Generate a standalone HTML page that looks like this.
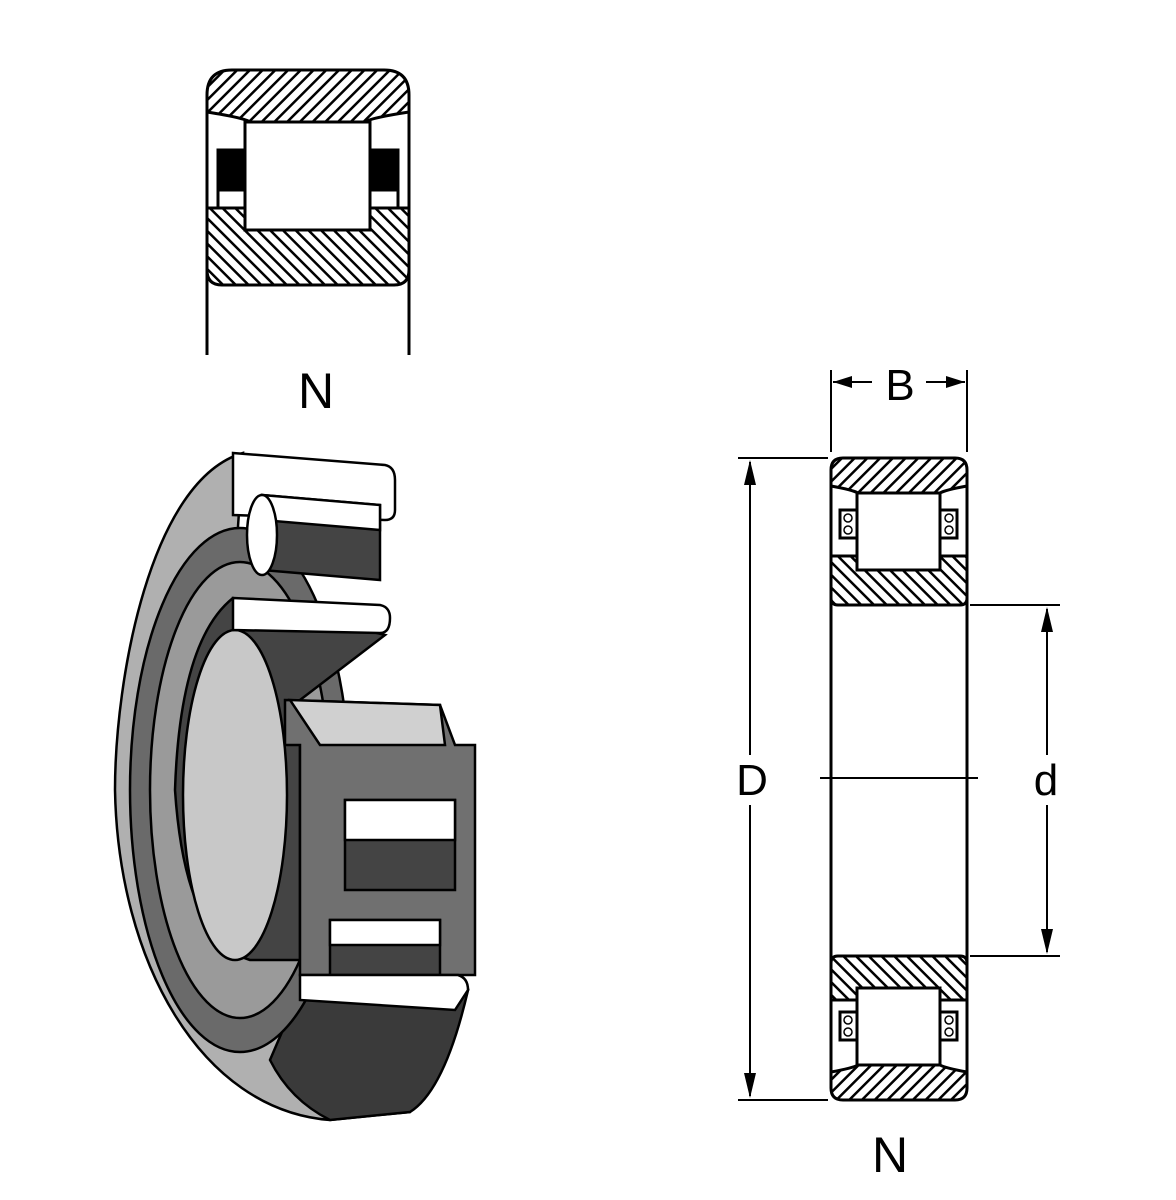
<!DOCTYPE html>
<html><head><style>html,body{margin:0;padding:0;background:#fff}svg{display:block}</style></head>
<body>
<svg width="1176" height="1200" viewBox="0 0 1176 1200" xmlns="http://www.w3.org/2000/svg" font-family="Liberation Sans, sans-serif">
<defs>
<pattern id="h" patternUnits="userSpaceOnUse" width="9" height="9" patternTransform="rotate(45)"><rect width="9" height="9" fill="#fff"/><rect width="2.5" height="9" fill="#000"/></pattern>
<pattern id="h2" patternUnits="userSpaceOnUse" width="9" height="9" patternTransform="rotate(-45)"><rect width="9" height="9" fill="#fff"/><rect width="2.5" height="9" fill="#000"/></pattern>
</defs>
<g stroke="#000" stroke-width="3">
<path d="M207,95 Q207,70 232,70 L384,70 Q409,70 409,95 L409,112 Q370,118 365,122 L250,122 Q245,118 207,112 Z" fill="url(#h)"/>
<path d="M207,208 L245,208 L245,222 Q245,230 253,230 L362,230 Q370,230 370,222 L370,208 L409,208 L409,270 Q409,285 394,285 L222,285 Q207,285 207,270 Z" fill="url(#h2)"/>
<rect x="245" y="122" width="125" height="108" fill="#fff"/>
<rect x="218" y="150" width="27" height="40" fill="#000"/>
<rect x="371" y="150" width="27" height="40" fill="#000"/>
<line x1="207" y1="95" x2="207" y2="355"/><line x1="409" y1="95" x2="409" y2="355"/>
<line x1="218" y1="190" x2="218" y2="208"/><line x1="398" y1="190" x2="398" y2="208"/>
</g>
<text x="316" y="408" font-size="50" text-anchor="middle">N</text>

<g stroke="#000" stroke-width="3">
<path d="M831,470 Q831,458 843,458 L955,458 Q967,458 967,470 L967,486 Q945,490 940,493 L858,493 Q853,490 831,486 Z" fill="url(#h)"/>
<path d="M831,556 L857,556 L857,566 Q857,570 862,570 L936,570 Q940,570 940,566 L940,556 L967,556 L967,598 Q967,605 960,605 L838,605 Q831,605 831,598 Z" fill="url(#h2)"/>
<rect x="857" y="493" width="83" height="77" fill="#fff"/>
<rect x="840" y="510" width="17" height="28" fill="#fff"/><rect x="940" y="510" width="17" height="28" fill="#fff"/>
<path d="M831,963 Q831,956 838,956 L960,956 Q967,956 967,963 L967,1000 L940,1000 L940,992 Q940,988 936,988 L862,988 Q857,988 857,992 L857,1000 L831,1000 Z" fill="url(#h2)"/>
<path d="M831,1088 Q831,1100 843,1100 L955,1100 Q967,1100 967,1088 L967,1072 Q945,1068 940,1065 L858,1065 Q853,1068 831,1072 Z" fill="url(#h)"/>
<rect x="857" y="988" width="83" height="77" fill="#fff"/>
<rect x="840" y="1012" width="17" height="28" fill="#fff"/><rect x="940" y="1012" width="17" height="28" fill="#fff"/>
<line x1="831" y1="470" x2="831" y2="1088"/><line x1="967" y1="470" x2="967" y2="1088"/>
</g>
<g stroke="#000" stroke-width="1.5" fill="none">
<circle cx="848" cy="518" r="4"/><circle cx="848" cy="530" r="4"/><circle cx="949" cy="518" r="4"/><circle cx="949" cy="530" r="4"/>
<circle cx="848" cy="1020" r="4"/><circle cx="848" cy="1032" r="4"/><circle cx="949" cy="1020" r="4"/><circle cx="949" cy="1032" r="4"/>
</g>
<g stroke="#000" stroke-width="2" fill="none">
<line x1="831" y1="370" x2="831" y2="452"/><line x1="967" y1="370" x2="967" y2="452"/>
<line x1="833" y1="382" x2="872" y2="382"/><line x1="926" y1="382" x2="965" y2="382"/>
<line x1="738" y1="458" x2="828" y2="458"/><line x1="738" y1="1100" x2="828" y2="1100"/>
<line x1="750" y1="462" x2="750" y2="755"/><line x1="750" y1="805" x2="750" y2="1096"/>
<line x1="970" y1="605" x2="1060" y2="605"/><line x1="970" y1="956" x2="1060" y2="956"/>
<line x1="1047" y1="609" x2="1047" y2="755"/><line x1="1047" y1="805" x2="1047" y2="952"/>
<line x1="820" y1="778" x2="978" y2="778"/>
</g>
<g fill="#000">
<path d="M833,382 L852,376 L852,388 Z"/><path d="M965,382 L946,376 L946,388 Z"/>
<path d="M750,460 L744,485 L756,485 Z"/><path d="M750,1098 L744,1073 L756,1073 Z"/>
<path d="M1047,607 L1041,632 L1053,632 Z"/><path d="M1047,954 L1041,929 L1053,929 Z"/>
</g>
<text x="900" y="400" font-size="44" text-anchor="middle">B</text>
<text x="752" y="795" font-size="44" text-anchor="middle">D</text>
<text x="1046" y="795" font-size="44" text-anchor="middle">d</text>
<text x="890" y="1172" font-size="50" text-anchor="middle">N</text>

<g stroke="#000" stroke-width="2.5">
<path d="M243,453 C150,480 115,680 115,790 C118,960 200,1110 330,1120 L410,1112 Q445,1080 468,990 L300,975 L300,600 L233,600 Z" fill="#b0b0b0"/>
<path d="M300,990 L468,990 Q445,1090 410,1112 L330,1120 Q290,1100 270,1060 Z" fill="#3a3a3a"/>
<ellipse cx="240" cy="790" rx="110" ry="262" fill="#6a6a6a"/>
<ellipse cx="240" cy="790" rx="90" ry="228" fill="#9a9a9a"/>
<path d="M233,598 Q180,640 175,790 Q185,940 250,960 L300,960 L300,700 L385,635 Z" fill="#444"/>
<ellipse cx="235" cy="795" rx="52" ry="165" fill="#c8c8c8"/>
<path d="M233,453 L385,465 Q395,467 395,480 L395,510 Q395,520 385,520 L233,515 Z" fill="#fff"/>
<path d="M262,495 L380,505 L380,580 L262,570 Z" fill="#444"/>
<path d="M262,495 L380,505 L380,530 L262,520 Z" fill="#fff"/>
<ellipse cx="262" cy="535" rx="15" ry="40" fill="#fff"/>
<path d="M233,598 L380,605 Q390,607 390,618 Q390,633 380,633 L233,630 Z" fill="#fff"/>
<path d="M285,700 L440,705 L455,745 L475,745 L475,975 L300,975 L300,745 L285,745 Z" fill="#707070"/>
<path d="M290,700 L440,705 L445,745 L320,745 Z" fill="#d0d0d0"/>
<path d="M345,800 L455,800 L455,890 L345,890 Z" fill="#444"/>
<path d="M345,800 L455,800 L455,840 L345,840 Z" fill="#fff"/>
<path d="M330,920 L440,920 L440,975 L330,975 Z" fill="#444"/>
<path d="M330,920 L440,920 L440,945 L330,945 Z" fill="#fff"/>
<path d="M300,975 L458,975 Q468,978 468,990 L455,1010 L300,1000 Z" fill="#fff"/>
</g>
</svg>
</body></html>
